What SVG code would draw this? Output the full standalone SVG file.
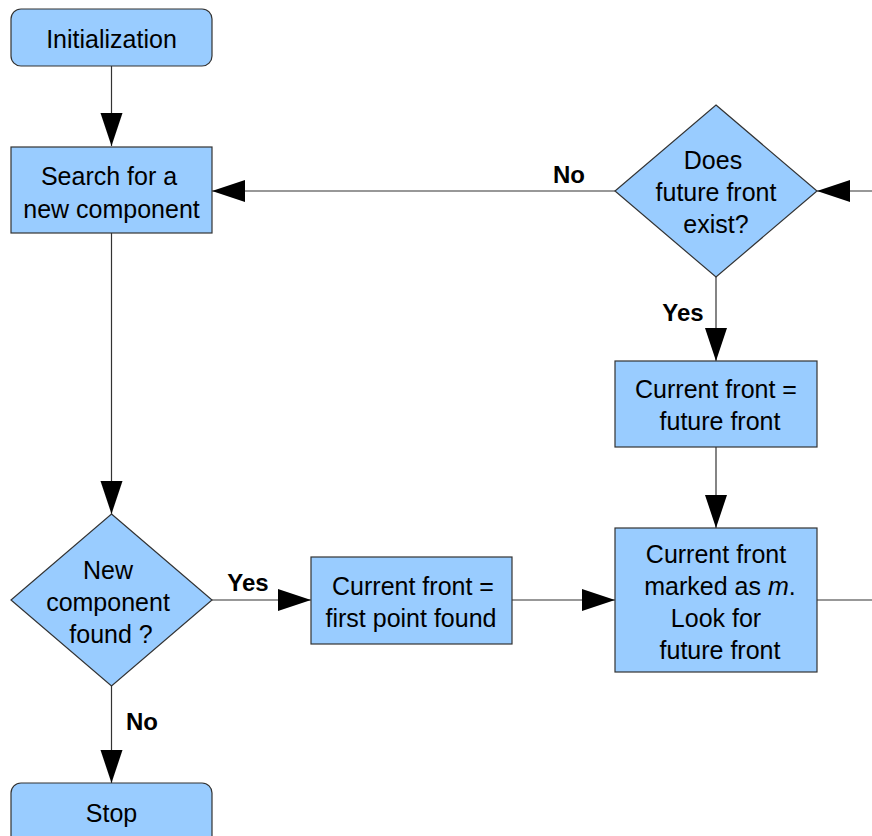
<svg xmlns="http://www.w3.org/2000/svg" width="872" height="836" viewBox="0 0 872 836">
<defs>
<marker id="arr" markerUnits="userSpaceOnUse" markerWidth="34" markerHeight="24" refX="33" refY="12" orient="auto">
<path d="M0,1 L33,12 L0,23 Z" fill="#000"/>
</marker>
<style>
.n{fill:#99ccff;stroke:#333;stroke-width:1.2}
.t{font-family:"Liberation Sans",Arial,sans-serif;font-size:25px;fill:#000;text-anchor:middle}
.l{font-family:"Liberation Sans",Arial,sans-serif;font-size:24px;font-weight:bold;fill:#000;text-anchor:middle}
.c{fill:none;stroke:#333;stroke-width:1.2}
</style>
</defs>
<rect width="872" height="836" fill="#fff"/>
<g id="connectors">
<path class="c" d="M111.5,66 V146" marker-end="url(#arr)"/>
<path class="c" d="M111.5,233 V514" marker-end="url(#arr)"/>
<path class="c" d="M212,600 H311" marker-end="url(#arr)"/>
<path class="c" d="M111.5,686 V783" marker-end="url(#arr)"/>
<path class="c" d="M512,600 H615" marker-end="url(#arr)"/>
<path class="c" d="M817,600 H872"/>
<path class="c" d="M872,191 H817" marker-end="url(#arr)"/>
<path class="c" d="M615,191 H212" marker-end="url(#arr)"/>
<path class="c" d="M716,277 V361" marker-end="url(#arr)"/>
<path class="c" d="M716,447 V528" marker-end="url(#arr)"/>
<text class="l" x="569" y="183">No</text>
<text class="l" x="683" y="321">Yes</text>
<text class="l" x="248" y="591">Yes</text>
<text class="l" x="142" y="730">No</text>
</g>
<g id="init">
<rect class="n" x="11" y="9" width="201" height="57" rx="10"/>
<text class="t" x="111.5" y="48">Initialization</text>
</g>
<g id="search">
<rect class="n" x="11" y="147" width="201" height="86"/>
<text class="t" x="109" y="185">Search for a</text>
<text class="t" x="111.5" y="218">new component</text>
</g>
<g id="newfound">
<path class="n" d="M111.5,514 L212,600 L111.5,686 L11,600 Z"/>
<text class="t" x="108" y="579">New</text>
<text class="t" x="108" y="611">component</text>
<text class="t" x="111" y="643">found ?</text>
</g>
<g id="stop">
<rect class="n" x="11" y="783" width="201" height="70" rx="10"/>
<text class="t" x="111.5" y="822">Stop</text>
</g>
<g id="firstpoint">
<rect class="n" x="311" y="557" width="201" height="87"/>
<text class="t" x="413" y="595">Current front =</text>
<text class="t" x="411" y="627">first point found</text>
</g>
<g id="marked">
<rect class="n" x="615" y="528" width="202" height="144"/>
<text class="t" x="716" y="563">Current front</text>
<text class="t" x="720" y="595">marked as <tspan font-style="italic">m</tspan>.</text>
<text class="t" x="716" y="627">Look for</text>
<text class="t" x="720" y="659">future front</text>
</g>
<g id="exists">
<path class="n" d="M716,105 L817,191 L716,277 L615,191 Z"/>
<text class="t" x="713" y="169">Does</text>
<text class="t" x="716" y="201">future front</text>
<text class="t" x="716" y="233">exist?</text>
</g>
<g id="futurefront">
<rect class="n" x="615" y="361" width="202" height="86"/>
<text class="t" x="716" y="398">Current front =</text>
<text class="t" x="720" y="430">future front</text>
</g>
</svg>
